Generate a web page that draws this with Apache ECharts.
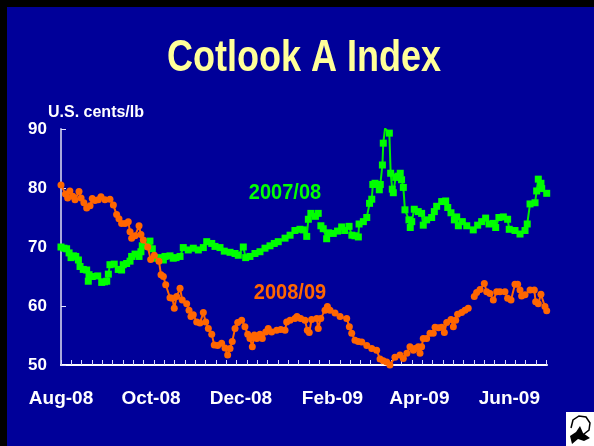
<!DOCTYPE html>
<html><head><meta charset="utf-8">
<script src="https://cdn.jsdelivr.net/npm/echarts@6/dist/echarts.min.js"></script>
<style>html,body{margin:0;padding:0;background:#000099;}#c{width:594px;height:446px;}</style>
</head><body><div id="c"></div>
<script>
// Tick labels (x) and their dates
const monthLabels = ['Aug-08','Oct-08','Dec-08','Feb-09','Apr-09','Jun-09'];
const monthDates  = ['2008-08-01','2008-10-01','2008-12-01','2009-02-01','2009-04-01','2009-06-01'];
const yTickValues = [50,60,70,80,90];

// 2007/08 season: days since 1 Aug, US cents/lb
const days0708 = [0,2,3.8,5.5,6.8,8.5,10,11.8,12.9,15.1,
17.4,18.5,19,21.2,24.9,27.6,29.5,31,32.1,33.2,
36.1,38.8,41.1,42.2,44.5,46.8,47.9,50.2,52.9,54.2,
55.1,58.1,60.3,61.9,63.7,66.4,69.4,70.5,73.9,76.1,
78,80.7,82.9,86.3,89.7,93.1,96.5,98.8,102.2,104.4,
107.8,110.7,114.6,118,120.2,123.6,125.2,128.1,131.5,134.9,
138.3,141.7,144.6,147.3,151.9,155.3,158.6,162,164.3,166.6,
167.7,169.4,172.5,174.4,175.3,176.2,177.8,180.1,181.5,184.6,
187.5,190.3,192.3,195.3,197.2,199.3,201.6,202.1,205,207.3,
209.2,210.7,211.4,212.9,215.8,216.5,217.9,218.5,219.7,222.6,
223.5,224.6,225.3,226.9,228.5,230,230.9,232.1,233.2,235.9,
236.8,237.8,239.5,242.2,244.5,245.6,247.9,251.3,253.1,254.7,
258.1,260.8,262.2,264.4,266.7,268.3,269.4,272.1,275.1,279.5,
282.5,285.2,287.9,290.2,293.1,294.7,296.9,299.9,302.8,303.9,
307.8,311.2,314.6,316.1,318,321.4,322.5,323.6,325.4,325.9,
329.3];
const index0708 = [70.0,69.8,69.7,69.0,68.2,68.5,68.4,67.8,66.7,66.2,
66.1,64.2,65.3,65.0,65.1,64.0,64.1,64.2,65.4,67.0,
67.1,66.2,66.1,67.0,67.2,67.6,68.4,68.8,68.4,69.2,
70.2,70.2,71.0,69.7,68.1,68.2,67.8,68.4,68.5,68.1,
68.2,68.4,69.9,69.5,69.8,69.5,69.9,70.9,70.6,70.1,
69.9,69.3,69.1,68.9,68.6,70.0,68.2,68.4,68.9,69.2,
69.8,70.2,70.6,70.9,71.5,72.0,72.8,73.0,72.9,71.8,
74.7,75.7,75.2,75.7,null,73.6,73.1,71.4,72.4,72.3,
72.7,73.4,72.8,73.5,72.0,71.9,71.7,73.9,74.3,75.0,
77.4,78.1,80.6,80.8,79.7,80.6,83.9,87.6,90.1,89.3,
82.5,79.8,79.2,81.8,82.0,82.5,81.4,80.1,76.3,74.6,
73.3,74.3,76.4,76.0,75.7,73.7,74.6,75.0,76.0,76.9,
77.7,77.8,76.7,75.8,74.6,75.1,73.6,74.3,73.6,72.9,
73.7,74.3,74.9,73.9,74.0,73.3,75.0,75.1,74.7,73.0,
72.8,72.2,72.8,73.9,77.3,77.5,79.5,81.5,80.8,79.9,
79.1];

// 2008/09 season
const days0809 = [0,3,4.5,6,8,9.5,12.2,13.6,15.5,17.4,
19.7,21.2,23,25.3,27.1,29.8,33.2,35.5,37.7,39.3,
41.1,43.4,45.6,46.8,47.9,50.2,52.9,54.2,55.8,58.8,
60.8,63.3,66.4,67.8,69.4,71,73.9,75.5,76.8,78.4,
80.7,82.2,85.2,86.8,88.1,89.7,92,94.2,96.5,98.1,
99.9,102.2,103.9,106.2,108.9,111.2,113,114.6,116.1,118,
119.8,122.5,124.7,126.6,128.1,129.7,131.1,132.7,134.9,136.5,
138.8,140.5,142.8,146.2,149,151.9,153,155.3,158.6,160,
162.5,165.4,167,168.3,169.9,173.4,174.4,176.1,179,180.6,
182.4,185.8,189.2,193.7,195.5,197.1,199.3,201.5,203.9,207.3,
210.7,214,216.3,218.5,220.8,223,226.4,229.8,232.1,234.5,
236.6,238.9,240,242.2,243.4,244.5,245.6,247.9,250.2,252.4,
253.6,256,258.1,259.9,261.5,264.4,266,267.6,268.9,271.6,
273.9,276.1,278,280.2,281.8,284.1,287,288.6,290.8,293.1,
295.4,297.6,301,302.8,305.1,307.8,309.6,311.2,312.3,314.6,
318,320.9,321.8,323.6,325.4,328.1,329.3];
const index0809 = [80.5,79.0,78.3,79.5,78.6,78.0,79.4,78.3,77.5,76.6,
77.0,78.2,77.9,78.0,78.5,78.0,78.1,77.1,75.5,74.8,
74.0,74.0,74.3,72.6,71.5,71.9,73.6,72.1,71.2,70.0,
67.9,68.6,67.6,65.3,65.0,63.6,61.4,61.3,59.6,61.6,
63.0,61.0,60.4,59.3,58.2,58.5,57.3,57.1,58.9,57.3,
56.2,55.2,53.4,53.3,53.7,52.9,51.7,52.8,54.0,56.2,
57.2,57.6,56.5,55.2,54.5,53.1,55.1,54.5,55.2,54.5,
55.6,56.2,55.6,55.9,56.0,55.9,57.3,57.6,57.9,58.2,
57.9,57.6,55.9,55.5,57.7,57.9,56.2,57.9,59.3,59.9,
59.3,58.8,58.2,57.9,56.5,55.4,54.2,54.0,53.9,53.3,
52.8,52.5,51.0,50.7,50.5,50.0,51.3,51.7,51.1,52.0,
53.1,52.5,52.8,53.1,52.0,53.1,54.5,54.5,55.4,55.4,
56.4,56.3,56.4,55.5,57.2,57.7,56.5,57.6,58.6,58.9,
59.3,59.6,null,61.6,62.3,62.8,63.8,62.4,62.1,61.0,
62.4,62.4,62.4,61.3,61.0,63.7,63.7,62.7,61.7,61.9,
62.7,62.7,60.7,60.4,62.0,59.9,59.2];

const FONT = '"Liberation Sans", Arial, sans-serif';
const start = Date.UTC(2008,7,1);
const dayOf = s => { const p = s.split('-').map(Number); return (Date.UTC(p[0],p[1]-1,p[2]) - start)/86400000; };
const labelDays = monthDates.map(dayOf);
const weekTicks = []; for (let d = 0; d <= 329.5; d += 7) weekTicks.push(d);
const pairs = (xs, ys) => xs.map((x,i) => [x, ys[i] === null ? '-' : ys[i]]);

const chart = echarts.init(document.getElementById('c'), null, {renderer:'canvas'});
chart.setOption({
  animation:false,
  backgroundColor:'#000099',
  grid:{left:61, right:47, top:129, bottom:81},
  xAxis:{
    type:'value', min:0, max:329.5,
    splitLine:{show:false},
    axisLine:{show:true, lineStyle:{color:'#ffffff', width:2}},
    axisTick:{show:true, inside:true, length:5, customValues:weekTicks, lineStyle:{color:'#d8d8f8', width:1}},
    axisLabel:{customValues:labelDays, color:'#ffffff', fontFamily:FONT, fontWeight:'bold', fontSize:19, margin:24,
      formatter: v => { const i = labelDays.indexOf(v); return i >= 0 ? monthLabels[i] : ''; }}
  },
  yAxis:{
    type:'value', min:yTickValues[0], max:yTickValues[yTickValues.length-1], interval:10,
    splitLine:{show:false},
    axisLine:{show:true, lineStyle:{color:'#a8a8dc', width:2}},
    axisTick:{show:true, inside:true, length:5, lineStyle:{color:'#e0e0ff', width:1}},
    axisLabel:{color:'#ffffff', fontFamily:FONT, fontWeight:'bold', fontSize:17, margin:14}
  },
  graphic:[
    {type:'rect', shape:{x:0,y:0,width:594,height:7}, style:{fill:'#000000'}, silent:true},
    {type:'rect', shape:{x:0,y:0,width:7,height:446}, style:{fill:'#000000'}, silent:true},
    {type:'text', x:304, y:59, scaleY:1.25, style:{text:'Cotlook A Index', font:'bold 36px '+FONT, fill:'#ffff99', textAlign:'center', textVerticalAlign:'middle'}},
    {type:'text', x:48, y:113, style:{text:'U.S. cents/lb', font:'bold 16px '+FONT, fill:'#ffffff', textAlign:'left', textVerticalAlign:'middle'}},
    {type:'text', x:285, y:193, scaleY:1.1, style:{text:'2007/08', font:'bold 20px '+FONT, fill:'#00ff00', textAlign:'center', textVerticalAlign:'middle'}},
    {type:'text', x:290, y:293, scaleY:1.1, style:{text:'2008/09', font:'bold 20px '+FONT, fill:'#ff6600', textAlign:'center', textVerticalAlign:'middle'}},
    {type:'rect', shape:{x:566,y:412,width:28,height:34}, style:{fill:'#ffffff'}, silent:true},
    {type:'polyline', shape:{points:[[571,428],[573,420],[579,416],[586,417],[590,423],[589,430],[584,434]]}, style:{stroke:'#000000', fill:null, lineWidth:1.5}, silent:true},
    {type:'polygon', shape:{points:[[570,436],[576,432],[580,426],[583,433],[590,438],[584,441],[578,439],[572,444]]}, style:{fill:'#000000'}, silent:true}
  ],
  series:[
    {name:'2007/08', type:'line', data:pairs(days0708, index0708), connectNulls:false,
     symbol:'rect', symbolSize:7, showSymbol:true, showAllSymbol:true,
     lineStyle:{color:'#00ee00', width:2}, itemStyle:{color:'#00ff00'}, z:2},
    {name:'2008/09', type:'line', data:pairs(days0809, index0809), connectNulls:false,
     symbol:'circle', symbolSize:7, showSymbol:true, showAllSymbol:true,
     lineStyle:{color:'#ff6600', width:2}, itemStyle:{color:'#ff6600'}, z:3}
  ]
});
</script></body></html>
